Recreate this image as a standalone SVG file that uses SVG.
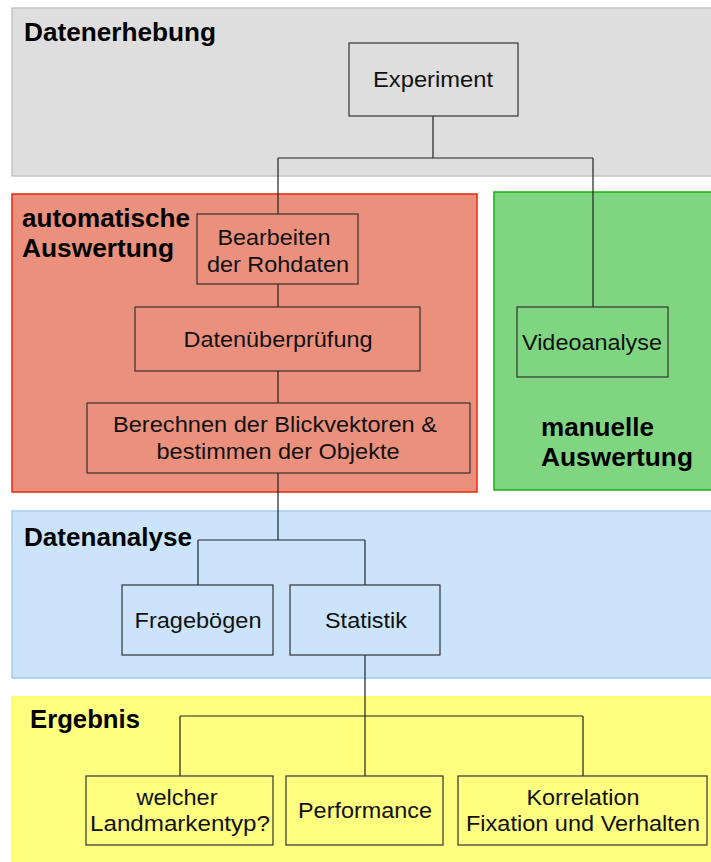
<svg xmlns="http://www.w3.org/2000/svg" width="711" height="862" viewBox="0 0 711 862">
  <style>
    .node rect { stroke: #333333; stroke-width: 1.2; }
    .node text { font-family: "Liberation Sans", Arial, sans-serif; font-size: 22px; fill: #111111; text-anchor: middle; }
    .title { font-family: "Liberation Sans", Arial, sans-serif; font-size: 25px; font-weight: bold; fill: #000000; }
    .conn path { fill: none; stroke: #222222; stroke-width: 1.2; }
  </style>

  <!-- phase panels -->
  <g id="panel-datenerhebung">
    <rect x="12" y="8" width="710" height="168" fill="#dedede" stroke="#c4c4c4" stroke-width="1.5"/>
    <text class="title" x="24" y="41" textLength="192" lengthAdjust="spacingAndGlyphs">Datenerhebung</text>
  </g>
  <g id="panel-automatisch">
    <rect x="12" y="194" width="465" height="298" fill="#eb907d" stroke="#e8280e" stroke-width="1.5"/>
    <text class="title" x="22" y="227" textLength="168" lengthAdjust="spacingAndGlyphs">automatische</text>
    <text class="title" x="22" y="257" textLength="152" lengthAdjust="spacingAndGlyphs">Auswertung</text>
  </g>
  <g id="panel-manuell">
    <rect x="494" y="192" width="230" height="298" fill="#80d680" stroke="#14b014" stroke-width="1.5"/>
    <text class="title" x="541" y="436" textLength="113" lengthAdjust="spacingAndGlyphs">manuelle</text>
    <text class="title" x="541" y="466" textLength="152" lengthAdjust="spacingAndGlyphs">Auswertung</text>
  </g>
  <g id="panel-datenanalyse">
    <rect x="12" y="511" width="710" height="167" fill="#cbe4fb" stroke="#a0ccf6" stroke-width="1.5"/>
    <text class="title" x="24" y="546" textLength="168" lengthAdjust="spacingAndGlyphs">Datenanalyse</text>
  </g>
  <g id="panel-ergebnis">
    <rect x="12" y="697" width="710" height="175" fill="#ffff80" stroke="#ffff50" stroke-width="1.5"/>
    <text class="title" x="30" y="728" textLength="110" lengthAdjust="spacingAndGlyphs">Ergebnis</text>
  </g>

  <!-- connectors -->
  <g id="connectors" class="conn">
    <path d="M433 116 V158 M278 158 H593 M278 158 V214 M593 158 V307"/>
    <path d="M278 284 V307 M278 371 V403"/>
    <path d="M278 473 V540 M198 540 H365 M198 540 V585 M365 540 V585"/>
    <path d="M365 655 V716 M180 716 H583 M180 716 V776 M365 716 V776 M583 716 V776"/>
  </g>

  <!-- nodes -->
  <g id="experiment" class="node">
    <rect x="349" y="43" width="169" height="73" fill="#dedede"/>
    <text x="433" y="87" textLength="120" lengthAdjust="spacingAndGlyphs">Experiment</text>
  </g>
  <g id="bearbeiten" class="node">
    <rect x="197" y="214" width="161" height="70" fill="#eb907d"/>
    <text x="274" y="245" textLength="113" lengthAdjust="spacingAndGlyphs">Bearbeiten</text>
    <text x="278" y="272" textLength="142" lengthAdjust="spacingAndGlyphs">der Rohdaten</text>
  </g>
  <g id="datenueberpruefung" class="node">
    <rect x="135" y="307" width="285" height="64" fill="#eb907d"/>
    <text x="278" y="347" textLength="189" lengthAdjust="spacingAndGlyphs">Datenüberprüfung</text>
  </g>
  <g id="berechnen" class="node">
    <rect x="87" y="403" width="383" height="70" fill="#eb907d"/>
    <text x="275" y="432" textLength="324" lengthAdjust="spacingAndGlyphs">Berechnen der Blickvektoren &amp;</text>
    <text x="278" y="459" textLength="243" lengthAdjust="spacingAndGlyphs">bestimmen der Objekte</text>
  </g>
  <g id="videoanalyse" class="node">
    <rect x="517" y="307" width="151" height="70" fill="#80d680"/>
    <text x="592" y="350" textLength="140" lengthAdjust="spacingAndGlyphs">Videoanalyse</text>
  </g>
  <g id="frageboegen" class="node">
    <rect x="122" y="585" width="151" height="70" fill="#cbe4fb"/>
    <text x="198" y="628" textLength="127" lengthAdjust="spacingAndGlyphs">Fragebögen</text>
  </g>
  <g id="statistik" class="node">
    <rect x="290" y="585" width="150" height="70" fill="#cbe4fb"/>
    <text x="366" y="628" textLength="82" lengthAdjust="spacingAndGlyphs">Statistik</text>
  </g>
  <g id="landmarkentyp" class="node">
    <rect x="86" y="776" width="187" height="69" fill="#ffff80"/>
    <text x="177" y="805" textLength="81" lengthAdjust="spacingAndGlyphs">welcher</text>
    <text x="180" y="831" textLength="180" lengthAdjust="spacingAndGlyphs">Landmarkentyp?</text>
  </g>
  <g id="performance" class="node">
    <rect x="286" y="776" width="157" height="69" fill="#ffff80"/>
    <text x="365" y="818" textLength="134" lengthAdjust="spacingAndGlyphs">Performance</text>
  </g>
  <g id="korrelation" class="node">
    <rect x="458" y="776" width="249" height="69" fill="#ffff80"/>
    <text x="583" y="805" textLength="113" lengthAdjust="spacingAndGlyphs">Korrelation</text>
    <text x="583" y="831" textLength="234" lengthAdjust="spacingAndGlyphs">Fixation und Verhalten</text>
  </g>
</svg>
